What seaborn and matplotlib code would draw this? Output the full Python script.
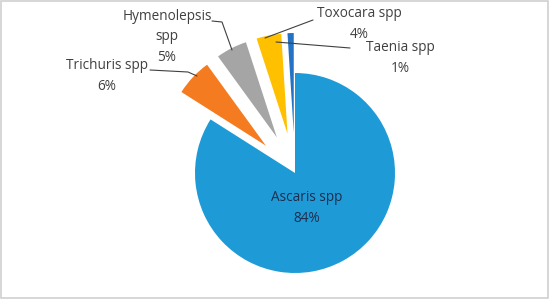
import matplotlib
matplotlib.use("Agg")
import matplotlib.pyplot as plt
import seaborn as sns
from matplotlib.patches import Rectangle

sns.set_theme(style="white")
plt.rcParams["font.family"] = ["Open Sans", "DejaVu Sans"]

# data
species = ["Ascaris spp", "Trichuris spp", "Hymenolepsis\nspp", "Toxocara spp", "Taenia spp"]
percent = [84, 6, 5, 4, 1]
colors = ["#1E9BD7", "#F47B20", "#A5A5A5", "#FFC000", "#2372C4"]

W, H = 550, 299
fig = plt.figure(figsize=(W / 100, H / 100), dpi=100)
ax = fig.add_axes([0, 0, 1, 1])

# pie in pixel-like data units (y measured from bottom)
cx, cy, r = 295, H - 173, 100
ax.pie(percent, colors=colors, startangle=90, counterclock=False,
       explode=[0, 40, 40, 40, 40], center=(cx, cy), radius=r,
       wedgeprops=dict(linewidth=0))
ax.set_xlim(0, W)
ax.set_ylim(0, H)
ax.set_aspect("equal")
ax.axis("off")

# label placement (pixel coords from top-left): text centre, leader line points
label_pos = [(307, 208), (107, 76), (167, 37), (359, 24), (400, 58)]
leaders = [
    None,
    [(150, 70), (188, 72), (197, 76)],
    [(212, 21), (222, 22), (232, 50)],
    [(313, 20), (265, 38)],
    [(350, 48), (276, 42)],
]

for name, p, (tx, ty), ld in zip(species, percent, label_pos, leaders):
    col = "#1F2D4D" if ld is None else "#404040"
    ax.text(tx, H - ty, f"{name}\n{p}%", ha="center", va="center",
            fontsize=9.8, color=col, linespacing=1.5)
    if ld:
        xs = [q[0] for q in ld]
        ys = [H - q[1] for q in ld]
        ax.plot(xs, ys, color="#404040", lw=0.8)

fig.add_artist(Rectangle((0.002, 0.004), 0.995, 0.992, transform=fig.transFigure,
                         fill=False, edgecolor="#D0D0D0", linewidth=1.2))

fig.savefig("out.png", dpi=100, facecolor="white")
